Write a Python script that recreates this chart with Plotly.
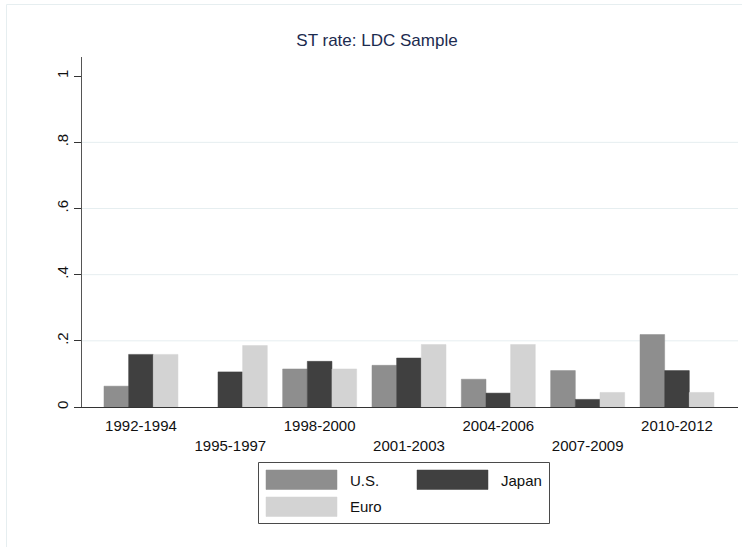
import plotly.graph_objects as go

# ---- data ----
periods = ["1992-1994", "1995-1997", "1998-2000", "2001-2003",
           "2004-2006", "2007-2009", "2010-2012"]
us_vals = [0.063, None, 0.115, 0.126, 0.084, 0.110, 0.219]
japan_vals = [0.159, 0.106, 0.138, 0.148, 0.042, 0.023, 0.110]
euro_vals = [0.159, 0.186, 0.115, 0.189, 0.189, 0.044, 0.044]
series_names = ["U.S.", "Japan", "Euro"]
series_colors = ["#8e8e8e", "#404040", "#d3d3d3"]
y_ticks = [0, 0.2, 0.4, 0.6, 0.8, 1.0]
y_ticktext = ["0", ".2", ".4", ".6", ".8", "1"]
title_text = "ST rate: LDC Sample"

# ---- layout geometry (pixels) ----
W, H = 742, 547
L, R, T, B = 82, 738, 57, 407
FONT = "Arial, Liberation Sans, sans-serif"

def px_x(p):
    return (p - L) / (R - L)

def px_y(p):
    return (B - p) / (B - T)

xpos = list(range(len(periods)))
# staggered category labels
ticktext = [p if i % 2 == 0 else "<br>" + p for i, p in enumerate(periods)]

fig = go.Figure()
for name, vals, col in zip(series_names, [us_vals, japan_vals, euro_vals], series_colors):
    fig.add_trace(go.Bar(
        x=xpos, y=vals, name=name,
        marker=dict(color=col, line=dict(color=col, width=0.5)),
        showlegend=False,
    ))

shapes = []
# horizontal grid lines (not at 0 and top)
for v in y_ticks[1:-1]:
    shapes.append(dict(type="line", xref="paper", yref="y", x0=0, x1=1, y0=v, y1=v,
                       line=dict(color="#e6eef0", width=1), layer="below"))
# faint outer frame
shapes.append(dict(type="rect", xref="paper", yref="paper",
                   x0=px_x(6.5), x1=px_x(800), y0=px_y(4.5), y1=px_y(600),
                   line=dict(color="#e6eef0", width=1), fillcolor="rgba(0,0,0,0)"))

# manual legend
shapes.append(dict(type="rect", xref="paper", yref="paper",
                   x0=px_x(258.5), x1=px_x(549.5), y0=px_y(462.5), y1=px_y(523.5),
                   line=dict(color="#4a4a4a", width=1), fillcolor="white"))
legend_slots = [(266, 470), (417, 470), (266, 497)]
annotations = []
for (sx, sy), name, col in zip(legend_slots, series_names, series_colors):
    shapes.append(dict(type="rect", xref="paper", yref="paper",
                       x0=px_x(sx), x1=px_x(sx + 71), y0=px_y(sy), y1=px_y(sy + 19.5),
                       line=dict(color=col, width=0.5), fillcolor=col))
    annotations.append(dict(xref="paper", yref="paper", x=px_x(sx + 82), y=px_y(sy + 10),
                            text=name, showarrow=False, xanchor="left", yanchor="middle",
                            font=dict(family=FONT, size=15, color="#111111")))

fig.update_layout(
    width=W, height=H,
    margin=dict(l=L, r=W - R, t=T, b=H - B, pad=0),
    paper_bgcolor="white", plot_bgcolor="white",
    barmode="group", bargap=0.172, bargroupgap=0,
    hovermode=False,
    title=dict(text=title_text, x=377 / W, xanchor="center",
               y=1 - 40 / H, yanchor="middle",
               font=dict(family=FONT, size=17, color="#1c2b4f")),
    font=dict(family=FONT, size=15, color="#111111"),
    shapes=shapes, annotations=annotations,
    xaxis=dict(range=[-0.660, 6.683], tickvals=xpos, ticktext=ticktext,
               showgrid=False, zeroline=False, showline=True,
               linecolor="#333333", linewidth=1, ticks="", ticklabelstandoff=5,
               tickfont=dict(family=FONT, size=15, color="#111111")),
    yaxis=dict(range=[0, 1.058], tickvals=y_ticks, ticktext=y_ticktext,
               showgrid=False, zeroline=False, showline=True,
               linecolor="#555555", linewidth=1, ticks="outside", ticklen=7,
               tickcolor="#333333", tickangle=-90,
               tickfont=dict(family=FONT, size=15, color="#111111")),
)

fig.write_html("out.html", config={"displayModeBar": False},
               post_script="document.body.style.margin='0';")
